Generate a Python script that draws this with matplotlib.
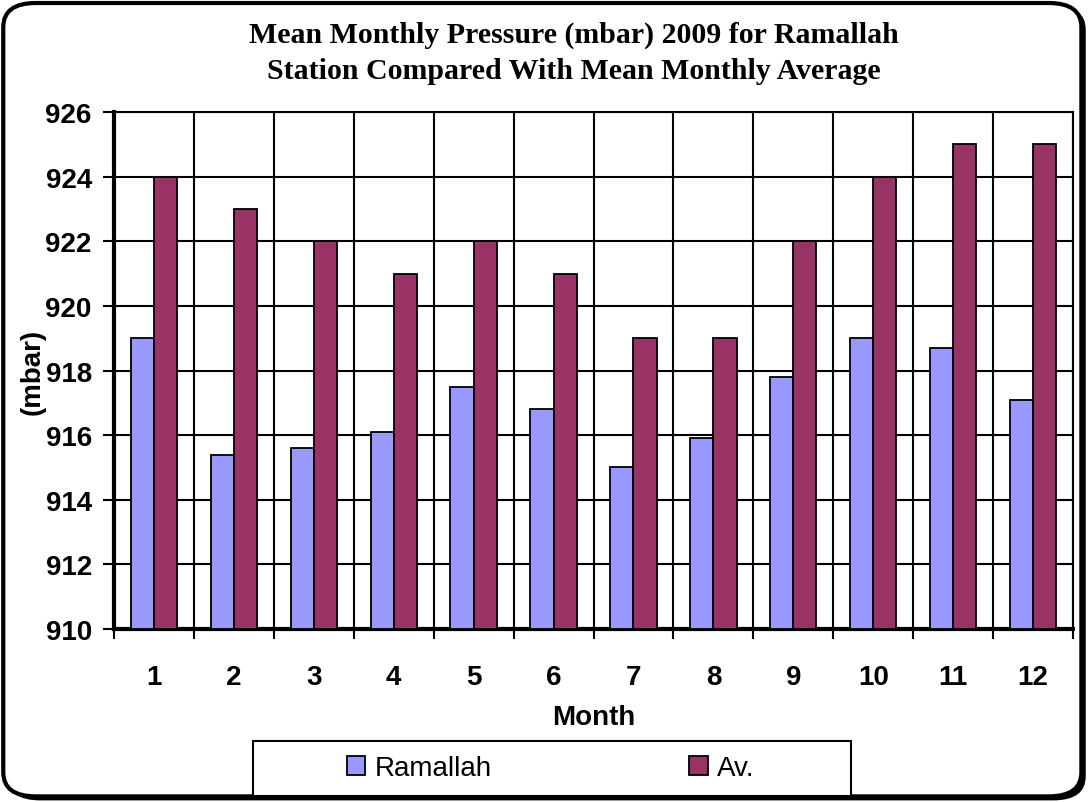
import numpy as np
import matplotlib
matplotlib.use("Agg")
import matplotlib.pyplot as plt
from matplotlib.patches import FancyBboxPatch, Rectangle

# valores
meses = [1, 2, 3, 4, 5, 6, 7, 8, 9, 10, 11, 12]
ramallah = [919.0, 915.4, 915.6, 916.1, 917.5, 916.8, 915.0, 915.9, 917.8, 919.0, 918.7, 917.1]
media = [924, 923, 922, 921, 922, 921, 919, 919, 922, 924, 925, 925]
nomes_series = ["Ramallah", "Av."]
y_ticks = [910, 912, 914, 916, 918, 920, 922, 924, 926]

plt.rcParams['font.family'] = ['Liberation Sans', 'DejaVu Sans']

fig = plt.figure(figsize=(10.89, 8.03), dpi=100)

# moldura externa arredondada com sombra
sombra = FancyBboxPatch((0.007, 0.002), 0.99, 0.99, boxstyle="round,pad=0,rounding_size=0.03",
                        transform=fig.transFigure, facecolor="black", edgecolor="none", zorder=0)
moldura = FancyBboxPatch((0.003, 0.007), 0.99, 0.988, boxstyle="round,pad=0,rounding_size=0.03",
                         transform=fig.transFigure, facecolor="white", edgecolor="black",
                         linewidth=3, zorder=1)
fig.patches.extend([sombra, moldura])

ax = fig.add_axes([0.1047, 0.2154, 0.8806, 0.6439])
ax.set_zorder(2)

x = np.arange(len(meses))
w = 0.29
ax.bar(x - w / 2, np.array(ramallah) - 910, w, bottom=910, color="#9999FF",
       edgecolor="black", linewidth=1.3, label=nomes_series[0], zorder=3)
ax.bar(x + w / 2, np.array(media) - 910, w, bottom=910, color="#993366",
       edgecolor="black", linewidth=1.3, label=nomes_series[1], zorder=3)

ax.set_xlim(-0.5, len(meses) - 0.5)
ax.set_ylim(910, 926)
ax.set_yticks(y_ticks)
ax.set_yticklabels([str(v) for v in y_ticks], fontsize=20, fontweight="bold")

# ticks principais nas divisorias, rotulos no centro
ax.set_xticks(np.arange(-0.5, len(meses), 1.0))
ax.set_xticklabels([])
ax.set_xticks(x, minor=True)
ax.set_xticklabels([str(m) for m in meses], minor=True, fontsize=20, fontweight="bold")
ax.tick_params(axis="x", which="minor", length=0, pad=25)
ax.tick_params(axis="x", which="major", direction="out", length=7, width=1.5)
ax.tick_params(axis="y", direction="out", length=8, width=1.5, pad=8)

ax.grid(True, which="major", color="black", linewidth=1.5, zorder=1)
ax.set_axisbelow(True)
for s in ax.spines.values():
    s.set_linewidth(1.5)
ax.spines["left"].set_linewidth(3)
ax.spines["bottom"].set_linewidth(3)

ax.set_xlabel("Month", fontsize=20, fontweight="bold", labelpad=10)
ax.set_ylabel("(mbar)", fontsize=20, fontweight="bold", labelpad=0)

fig.text(0.527, 0.934, "Mean Monthly Pressure (mbar) 2009 for Ramallah\nStation Compared With Mean Monthly Average",
         ha="center", va="center", fontsize=21.5, fontweight="bold",
         family=["Liberation Serif", "DejaVu Serif"], linespacing=1.42, zorder=5)

# caixa da legenda
caixa = Rectangle((253 / 1089, 1 - 797 / 803), (851 - 253) / 1089, 55 / 803,
                  transform=fig.transFigure, facecolor="white", edgecolor="black",
                  linewidth=1.5, zorder=4)
fig.patches.append(caixa)

leg = fig.legend(loc="center", bbox_to_anchor=(0.506, 0.042), ncol=2, fontsize=20,
                 frameon=False, handlelength=0.65, handleheight=0.65,
                 handletextpad=0.35, columnspacing=7.1)
leg.set_zorder(5)

fig.savefig("out.png", dpi=100)
